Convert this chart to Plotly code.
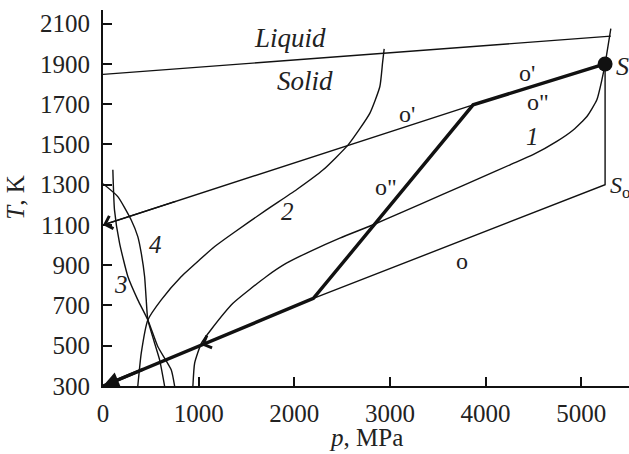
import numpy as np
import plotly.graph_objects as go

# ---- axis ticks ----
x_ticks = [0, 1000, 2000, 3000, 4000, 5000]
y_ticks = [300, 500, 700, 900, 1100, 1300, 1500, 1700, 1900, 2100]

# ---- melting line (Solid / Liquid boundary) ----
melt_p = [0, 5310]
melt_T = [1848, 2038]

# ---- curves 1-4 ----
c1_p = [940, 958, 1028, 1133, 1359, 1709, 1918, 2162, 2476, 2825, 3105, 3558,
        3946, 4257, 4497, 4745, 4920, 5060, 5164, 5217, 5250, 5310]
c1_T = [300, 413, 512, 582, 711, 844, 910, 968, 1035, 1101, 1159, 1253,
        1334, 1399, 1449, 1515, 1573, 1639, 1722, 1822, 1900, 2075]

c2_p = [364, 400, 469, 609, 819, 1010, 1168, 1359, 1709, 2023, 2302, 2563, 2791, 2895, 2923, 2940]
c2_T = [300, 463, 628, 728, 844, 927, 993, 1059, 1175, 1275, 1374, 1498, 1656, 1788, 1905, 1975]

c3_p = [103, 120, 173, 260, 364, 469, 574, 714, 749]
c3_T = [1374, 1175, 1010, 844, 728, 628, 495, 380, 300]

c4_p = [0, 155, 295, 364, 400, 435, 452, 469, 592, 644]
c4_T = [1305, 1241, 1125, 1042, 960, 844, 728, 628, 430, 300]

# ---- loading paths ----
o_p = [0, 2200, 5250, 5250]          # origin -> kink -> S_o -> S
o_T = [300, 735, 1300, 1900]
o1_p = [0, 3870, 5250]               # o' path
o1_T = [1100, 1697, 1900]
thick_p = [0, 2200, 3870, 5250]      # highlighted path o''
thick_T = [300, 735, 1697, 1900]

S_point = (5250, 1900)

# ---- text labels ----
lab_text = ["<i>Liquid</i>", "<i>Solid</i>", "o'", "o'", 'o"', 'o"',
            "<i>1</i>", "<i>2</i>", "<i>3</i>", "<i>4</i>", "o", "<i>S</i>"]
lab_p = [1960, 2110, 3178, 4434, 4550, 2958, 4487, 1932, 184, 550, 3754, 5430]
lab_T = [2030, 1817, 1652, 1856, 1712, 1290, 1538, 1165, 802, 1001, 922, 1886]
lab_size = [27, 27, 24, 24, 24, 24, 25, 25, 25, 25, 24, 26]

SERIF = '"Liberation Serif", "Times New Roman", Times, serif'
BLACK = "#111111"
GREY = "#222222"

fig = go.Figure()

def thin(px, py, spline=False, w=1.4):
    fig.add_trace(go.Scatter(
        x=px, y=py, mode="lines",
        line=dict(color=BLACK, width=w, shape="spline" if spline else "linear",
                  smoothing=0.5 if spline else None),
        showlegend=False, hoverinfo="skip", cliponaxis=False))

thin(melt_p, melt_T)
thin(c1_p, c1_T, spline=True)
thin(c2_p, c2_T, spline=True)
thin(c3_p, c3_T, spline=True)
thin(c4_p, c4_T, spline=True)
thin(o_p, o_T)
thin(o1_p, o1_T)
thin(thick_p, thick_T, w=3.4)

fig.add_trace(go.Scatter(x=[S_point[0]], y=[S_point[1]], mode="markers",
                         marker=dict(color=BLACK, size=15),
                         showlegend=False, hoverinfo="skip", cliponaxis=False))

annotations = []
for t, px, py, sz in zip(lab_text, lab_p, lab_T, lab_size):
    annotations.append(dict(x=px, y=py, xref="x", yref="y", text=t, showarrow=False,
                            font=dict(family=SERIF, size=sz, color=GREY)))
annotations.append(dict(x=5280, y=1290, xref="x", yref="y", xanchor="left",
                        text="<i>S</i><sub>o</sub>", showarrow=False,
                        font=dict(family=SERIF, size=24, color=GREY)))

# axis titles
annotations.append(dict(x=0.5, y=-0.095, xref="paper", yref="paper", yanchor="top",
                        text="<i>p</i>, MPa", showarrow=False,
                        font=dict(family=SERIF, size=25, color=GREY)))
annotations.append(dict(x=-0.168, y=0.5, xref="paper", yref="paper", xanchor="center",
                        text="<i>T</i>, K", showarrow=False, textangle=-90,
                        font=dict(family=SERIF, size=25, color=GREY)))

# arrowheads along paths (tail point taken along the same path)
def arrow(tip_p, tip_T, nxt_p, nxt_T, head, size, width):
    tail_p = tip_p + 0.2 * (nxt_p - tip_p)
    tail_T = tip_T + 0.2 * (nxt_T - tip_T)
    annotations.append(dict(x=tip_p, y=tip_T, ax=tail_p, ay=tail_T,
                            xref="x", yref="y", axref="x", ayref="y",
                            text="", showarrow=True, arrowhead=head,
                            arrowsize=size, arrowwidth=width, arrowcolor=BLACK))

arrow(thick_p[0], thick_T[0], thick_p[1], thick_T[1], 2, 1.0, 3.2)
arrow(o1_p[0], o1_T[0], o1_p[1], o1_T[1], 4, 2.0, 1.3)
p_b = 1028
arrow(p_b, float(np.interp(p_b, thick_p[:2], thick_T[:2])), thick_p[1], thick_T[1], 4, 2.0, 1.3)

fig.update_layout(
    width=629, height=454,
    margin=dict(l=103, r=0, t=10, b=68, autoexpand=False),
    paper_bgcolor="white", plot_bgcolor="white",
    annotations=annotations,
    font=dict(family=SERIF, size=25, color=GREY),
)
fig.update_xaxes(range=[0, 5500], tickvals=x_ticks, ticks="inside", ticklen=9, tickwidth=1.5,
                 tickcolor=BLACK, showline=True, linecolor=BLACK, linewidth=2, showgrid=False,
                 zeroline=False, automargin=False, ticklabelstandoff=4,
                 tickfont=dict(family=SERIF, size=25, color=GREY))
fig.update_yaxes(range=[300, 2168], tickvals=y_ticks, ticks="inside", ticklen=9, tickwidth=1.5,
                 tickcolor=BLACK, showline=True, linecolor=BLACK, linewidth=2, showgrid=False,
                 zeroline=False, automargin=False, ticklabelstandoff=6,
                 tickfont=dict(family=SERIF, size=25, color=GREY))

fig.write_html("out.html", config={"displayModeBar": False},
               post_script="document.body.style.margin='0px';")
